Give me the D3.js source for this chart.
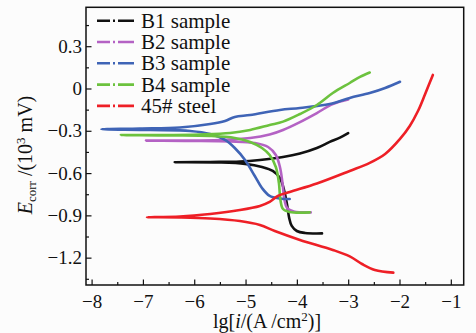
<!DOCTYPE html>
<html>
<head>
<meta charset="utf-8">
<script src="https://cdn.jsdelivr.net/npm/d3@7"></script>
<style>
  body { margin: 0; background: #fcfcfc; }
  .axis path { display: none; }
  .axis line { stroke: #111; stroke-width: 1.2; }
</style>
</head>
<body>
<div id="chart"></div>
<script>
// Polarization curves, each traced from the cathodic end, through Ecorr, to the anodic end.
var b1LgI = [-3.51, -3.84, -4.00, -4.10, -4.15, -4.19, -4.25, -4.33, -4.47, -4.68, -5.01, -5.50, -6.38,
             -5.69, -5.11, -4.72, -4.27, -3.94, -3.61, -3.36, -3.16, -3.00];
var b1E   = [-1.028, -1.025, -1.011, -0.975, -0.918, -0.826, -0.720, -0.635, -0.585, -0.557, -0.535, -0.525, -0.523,
             -0.521, -0.518, -0.507, -0.486, -0.461, -0.422, -0.379, -0.348, -0.316];

var b2LgI = [-3.73, -4.06, -4.19, -4.24, -4.28, -4.33, -4.41, -4.56, -4.82, -5.30, -6.08, -6.94,
             -6.28, -5.50, -4.91, -4.53, -4.27, -3.94, -3.61, -3.30, -3.00];
var b2E   = [-0.879, -0.872, -0.848, -0.791, -0.670, -0.557, -0.472, -0.415, -0.387, -0.376, -0.372, -0.370,
             -0.369, -0.365, -0.351, -0.326, -0.294, -0.238, -0.174, -0.110, -0.078];

var b3LgI = [-4.14, -4.33, -4.53, -4.68, -4.82, -5.01, -5.21, -5.40, -5.69, -6.08, -6.86, -7.81,
             -7.06, -6.28, -5.69, -5.40, -5.21, -4.91, -4.33, -3.94, -3.36, -2.97, -2.58, -2.28, -1.99];
var b3E   = [-0.784, -0.780, -0.762, -0.706, -0.621, -0.507, -0.422, -0.365, -0.323, -0.301, -0.294, -0.289,
             -0.284, -0.277, -0.252, -0.230, -0.202, -0.188, -0.152, -0.138, -0.110, -0.067, -0.032, 0.004, 0.048];

var b4LgI = [-3.75, -4.14, -4.27, -4.32, -4.35, -4.41, -4.53, -4.68, -4.91, -5.21, -5.69, -6.47, -7.43,
             -6.67, -5.89, -5.30, -4.91, -4.53, -4.27, -3.94, -3.61, -3.30, -2.97, -2.77, -2.58];
var b4E   = [-0.879, -0.876, -0.855, -0.791, -0.670, -0.557, -0.472, -0.422, -0.379, -0.351, -0.337, -0.333, -0.330,
             -0.330, -0.326, -0.316, -0.294, -0.259, -0.235, -0.181, -0.117, -0.032, 0.039, 0.082, 0.113];

var steelLgI = [-2.12, -2.48, -2.73, -2.97, -3.30, -3.94, -4.43, -4.72, -5.11, -5.69, -6.28, -6.92,
                -6.28, -5.69, -5.11, -4.72, -4.53, -4.37, -4.14, -3.61, -2.97, -2.58, -2.28, -1.99, -1.80, -1.64, -1.50, -1.35];
var steelE   = [-1.306, -1.287, -1.245, -1.191, -1.145, -1.074, -1.011, -0.968, -0.940, -0.922, -0.915, -0.913,
                -0.908, -0.890, -0.862, -0.833, -0.805, -0.762, -0.734, -0.674, -0.585, -0.528, -0.465, -0.358, -0.266, -0.160, -0.039, 0.096];

var seriesNames = ['B1 sample', 'B2 sample', 'B3 sample', 'B4 sample', '45# steel'];
var seriesColors = ['#111111', '#b462c4', '#3f64b6', '#6cc23e', '#ee1f26'];

var xTicks = [-8, -7, -6, -5, -4, -3, -2, -1];
var xTickLabels = ['\u22128', '\u22127', '\u22126', '\u22125', '\u22124', '\u22123', '\u22122', '\u22121'];
var yTicks = [-1.2, -0.9, -0.6, -0.3, 0, 0.3];
var yTickLabels = ['\u22121.2', '\u22120.9', '\u22120.6', '\u22120.3', '0', '0.3'];

var series = [
    {lg: b1LgI, e: b1E},
    {lg: b2LgI, e: b2E},
    {lg: b3LgI, e: b3E},
    {lg: b4LgI, e: b4E},
    {lg: steelLgI, e: steelE}
];

var serif = 'Liberation Serif, serif';

// Plot frame in pixels (names chosen so they don't clash with window.top etc).
var frameL = 86, frameR = 463.7, frameT = 7.3, frameB = 285;

var svg = d3.select('#chart')
    .append('svg')
        .attr('width', 476)
        .attr('height', 333)
        .style('display', 'block');

var x = d3.scaleLinear()
    .domain([-8.109, -0.749])
    .range([frameL, frameR]);

var y = d3.scaleLinear()
    .domain([-1.394, 0.576])
    .range([frameB, frameT]);

// Minor ticks at the half steps.
var xMinor = [-7.5, -6.5, -5.5, -4.5, -3.5, -2.5, -1.5];
var yMinor = [-1.35, -1.05, -0.75, -0.45, -0.15, 0.15, 0.45];

svg.append('g')
    .attr('class', 'axis')
    .attr('transform', 'translate(0,' + frameB + ')')
    .call(d3.axisBottom(x).tickValues(xMinor).tickSize(-3).tickFormat(''));

svg.append('g')
    .attr('class', 'axis')
    .attr('transform', 'translate(0,' + frameB + ')')
    .call(d3.axisBottom(x)
        .tickValues(xTicks)
        .tickSize(-5.5)
        .tickPadding(10)
        .tickFormat(function(d, i){ return xTickLabels[i]; }));

svg.append('g')
    .attr('class', 'axis')
    .attr('transform', 'translate(' + frameL + ',0)')
    .call(d3.axisLeft(y).tickValues(yMinor).tickSize(-3).tickFormat(''));

svg.append('g')
    .attr('class', 'axis')
    .attr('transform', 'translate(' + frameL + ',0)')
    .call(d3.axisLeft(y)
        .tickValues(yTicks)
        .tickSize(-5.5)
        .tickPadding(4)
        .tickFormat(function(d, i){ return yTickLabels[i]; }));

svg.selectAll('.axis')
    .attr('font-family', serif)
    .attr('font-size', 19);
svg.selectAll('.axis text').attr('fill', '#111');

// Curves.
var line = d3.line()
    .x(function(d){ return x(d[0]); })
    .y(function(d){ return y(d[1]); })
    .curve(d3.curveCatmullRom.alpha(0.5));

svg.append('g')
    .selectAll('path')
    .data(series)
    .enter().append('path')
        .attr('d', function(s){ return line(d3.zip(s.lg, s.e)); })
        .attr('fill', 'none')
        .attr('stroke', function(s, i){ return seriesColors[i]; })
        .attr('stroke-width', 2.6)
        .attr('stroke-linejoin', 'round')
        .attr('stroke-linecap', 'round');

// Frame.
svg.append('rect')
    .attr('x', frameL)
    .attr('y', frameT)
    .attr('width', frameR - frameL)
    .attr('height', frameB - frameT)
    .attr('fill', 'none')
    .attr('stroke', '#111')
    .attr('stroke-width', 1.5);

// Legend.
var rows = svg.append('g')
    .selectAll('g')
    .data(seriesNames)
    .enter().append('g')
        .attr('transform', function(d, i){ return 'translate(0,' + (20.7 + i * 21.3) + ')'; });

rows.append('line')
    .attr('x1', 97)
    .attr('x2', 134)
    .attr('stroke', function(d, i){ return seriesColors[i]; })
    .attr('stroke-width', 2.6)
    .attr('stroke-dasharray', '13,3,2,3,16');

rows.append('text')
    .attr('x', 141)
    .attr('dy', '0.33em')
    .attr('font-family', serif)
    .attr('font-size', 21)
    .attr('fill', '#111')
    .text(function(d){ return d; });

// X-axis title.
var xTitle = svg.append('text')
    .attr('x', 267)
    .attr('y', 328)
    .attr('text-anchor', 'middle')
    .attr('font-family', serif)
    .attr('font-size', 20)
    .attr('fill', '#111');
xTitle.append('tspan').text('lg[');
xTitle.append('tspan').attr('font-style', 'italic').text('i');
xTitle.append('tspan').text('/(A /cm');
xTitle.append('tspan').attr('dy', -7).attr('font-size', 13).text('2');
xTitle.append('tspan').attr('dy', 7).text(')]');

// Y-axis title.
var yTitle = svg.append('text')
    .attr('transform', 'translate(32,155) rotate(-90)')
    .attr('text-anchor', 'middle')
    .attr('font-family', serif)
    .attr('font-size', 20)
    .attr('fill', '#111');
yTitle.append('tspan').attr('font-style', 'italic').text('E');
yTitle.append('tspan').attr('dy', 4).attr('font-size', 13).text('corr');
yTitle.append('tspan').attr('dy', -4).text(' /(10');
yTitle.append('tspan').attr('dy', -7).attr('font-size', 13).text('3');
yTitle.append('tspan').attr('dy', 7).text(' mV)');
</script>
</body>
</html>
